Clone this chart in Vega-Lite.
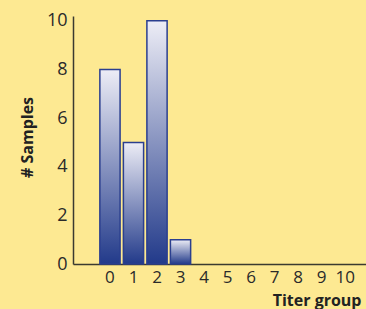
{
  "$schema": "https://vega.github.io/schema/vega-lite/v6.json",
  "autosize": "none",
  "width": 293,
  "height": 248,
  "padding": {"left": 73, "top": 16, "right": 0, "bottom": 45},
  "background": "#FDE992",
  "config": {"view": {"stroke": null}},
  "data": {
    "values": [
      {"group": "0", "samples": 8},
      {"group": "1", "samples": 5},
      {"group": "2", "samples": 10},
      {"group": "3", "samples": 1}
    ]
  },
  "mark": {
    "type": "bar",
    "stroke": "#2B3F8F",
    "strokeWidth": 1.5,
    "color": {
      "gradient": "linear",
      "x1": 0, "y1": 0, "x2": 0, "y2": 1,
      "stops": [
        {"offset": 0, "color": "#EDEDF6"},
        {"offset": 1, "color": "#223A8A"}
      ]
    }
  },
  "encoding": {
    "x": {
      "field": "group",
      "type": "ordinal",
      "sort": null,
      "scale": {
        "domain": ["0","1","2","3","4","5","6","7","8","9","10"],
        "paddingInner": 0.14,
        "paddingOuter": 0.8,
        "align": 0.714
      },
      "axis": {
        "title": "Titer group",
        "titleFont": "Open Sans",
        "titleFontSize": 16,
        "titleFontWeight": "bold",
        "titleColor": "#222222",
        "titleAnchor": "end",
        "titleAlign": "right",
        "titleX": 288,
        "titleY": 41,
        "titleBaseline": "alphabetic",
        "labelAngle": 0,
        "labelFont": "Open Sans",
        "labelFontSize": 17,
        "labelColor": "#2a2a2a",
        "labelPadding": 5,
        "ticks": false,
        "domainColor": "#3a3a30",
        "domainWidth": 1.5
      }
    },
    "y": {
      "field": "samples",
      "type": "quantitative",
      "scale": {"domain": [0, 10.2], "nice": false},
      "axis": {
        "title": "# Samples",
        "titleFont": "Open Sans",
        "titleFontSize": 16,
        "titleFontWeight": "bold",
        "titleColor": "#222222",
        "titleAngle": -90,
        "titleX": -46,
        "titleY": 121,
        "titleAlign": "center",
        "titleBaseline": "middle",
        "values": [0, 2, 4, 6, 8, 10],
        "labelFont": "Open Sans",
        "labelFontSize": 18,
        "labelColor": "#2a2a2a",
        "labelPadding": 6,
        "ticks": false,
        "grid": false,
        "domainColor": "#3a3a30",
        "domainWidth": 1.5
      }
    }
  }
}
